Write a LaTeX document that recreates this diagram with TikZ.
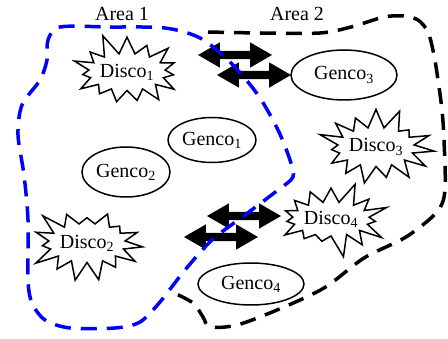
\documentclass[tikz,border=0pt]{standalone}
\usepackage{fontspec}
\setmainfont{Liberation Serif}
\usetikzlibrary{shapes.geometric,shapes.symbols,shapes.arrows}
\begin{document}
\begin{tikzpicture}[x=1pt,y=-1pt,
  every node/.style={font=\fontsize{20}{24}\selectfont},
  genco/.style={ellipse, draw, line width=1.5pt, inner sep=0pt},
  disco/.style={starburst, draw, line width=1.5pt, fill=white, inner sep=0pt,
    starburst points=15, starburst point height=22pt},
  link/.style={double arrow, fill=black, draw=none, inner sep=4pt,
    double arrow head extend=8.5pt, double arrow tip angle=60, minimum height=74pt},
  areaone/.style={draw=blue, line width=3.5pt, dash pattern=on 16pt off 10pt},
  areatwo/.style={draw=black, line width=3.5pt, dash pattern=on 16pt off 10pt},
  arealabel/.style={inner sep=0pt}]
\useasboundingbox (0,0) rectangle (448,339);

% area labels
\node[arealabel] (a1) at (122,14) {Area 1};
\node[arealabel] (a2) at (297,14) {Area 2};

% tie-line arrows between the two areas
\node[link] (t1) at (235,55) {};
\node[link] (t2) at (254,75) {};
\node[link] (t3) at (244,216) {};
\node[link] (t4) at (221,237) {};

% generation companies
\node[genco, minimum width=88pt, minimum height=45pt] (g1) at (212,140) {Genco\textsubscript{1}};
\node[genco, minimum width=88pt, minimum height=50pt] (g2) at (126,172) {Genco\textsubscript{2}};
\node[genco, minimum width=106pt, minimum height=50pt] (g3) at (344,75) {Genco\textsubscript{3}};
\node[genco, minimum width=106pt, minimum height=42pt] (g4) at (251,284) {Genco\textsubscript{4}};

% distribution companies
\node[disco, minimum width=100pt, minimum height=81pt, random starburst=11] (d1) at (127,72) {Disco\textsubscript{1}};
\node[disco, minimum width=101pt, minimum height=83pt, random starburst=23] (d2) at (87,243) {Disco\textsubscript{2}};
\node[disco, minimum width=102pt, minimum height=83pt, random starburst=37] (d3) at (376,147) {Disco\textsubscript{3}};
\node[disco, minimum width=95pt, minimum height=78pt, random starburst=51] (d4) at (331,219) {Disco\textsubscript{4}};

% area 1 boundary
\draw[areaone] plot[smooth cycle, tension=0.5] coordinates {
  (60,27) (110,27) (165,28) (200,38) (230,62) (258,95) (278,130) (290,160)
  (293,177) (278,190) (245,215) (212,240) (185,270) (160,302) (140,322)
  (115,328) (70,328) (45,320) (32,303) (28,280) (28,220) (24,175) (18,135)
  (22,105) (40,80) (47,60) (48,40)};

% area 2 boundary
\draw[areatwo] plot[smooth, tension=0.5] coordinates {
  (208,32) (260,33) (320,33) (351,27) (384,17) (404,16) (418,20) (428,32)
  (434,55) (438,80) (442,110) (444,140) (445,190) (437,212) (406,237)
  (364,258) (324,288) (277,310) (237,325) (210,327) (203,317) (193,303)
  (172,292)};
\end{tikzpicture}
\end{document}
